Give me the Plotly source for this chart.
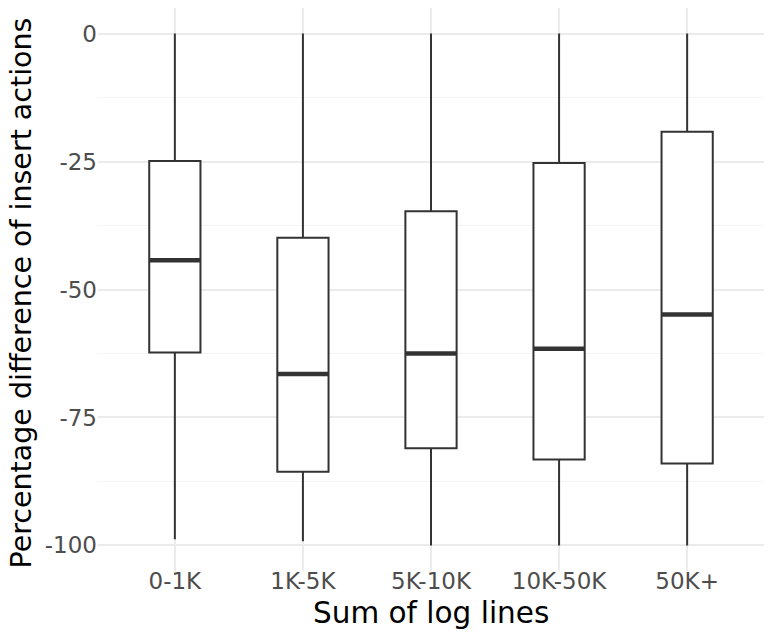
import plotly.graph_objects as go

categories = ["0-1K", "1K-5K", "5K-10K", "10K-50K", "50K+"]
lower_whisker = [-98.8, -99.2, -100.0, -100.0, -100.0]
q1 = [-62.3, -85.6, -81.0, -83.2, -84.0]
median = [-44.3, -66.5, -62.5, -61.6, -54.9]
q3 = [-24.9, -39.9, -34.7, -25.3, -19.2]
upper_whisker = [0.0, 0.0, 0.0, 0.0, 0.0]

y_ticks = [-100, -75, -50, -25, 0]
y_minor = [-87.5, -62.5, -37.5, -12.5]

x_title = "Sum of log lines"
y_title = "Percentage difference of insert actions"

positions = list(range(1, len(categories) + 1))
box_width = 0.4
LINE = "#333333"
GRID = "#EBEBEB"
FONT = "DejaVu Sans"

# page has an 8px body margin, so the figure is sized to fit the window
W, H = 765, 630
ML, MR, MT, MB = 90, 9, 0, 67

fig = go.Figure()
fig.add_trace(go.Box(
    x=positions, q1=q1, median=median, q3=q3,
    lowerfence=lower_whisker, upperfence=upper_whisker,
    width=box_width, whiskerwidth=0,
    fillcolor="white", line=dict(color=LINE, width=2),
    boxpoints=False, showlegend=False, hoverinfo="skip",
))

# thicker median segments (ggplot style)
mx, my = [], []
for p, m in zip(positions, median):
    mx += [p - box_width / 2, p + box_width / 2, None]
    my += [m, m, None]
fig.add_trace(go.Scatter(x=mx, y=my, mode="lines",
                         line=dict(color=LINE, width=4.5),
                         showlegend=False, hoverinfo="skip"))

fig.update_layout(
    width=W, height=H,
    margin=dict(l=ML, r=MR, t=MT, b=MB),
    paper_bgcolor="white", plot_bgcolor="white",
    font=dict(family=FONT, color="#4D4D4D"),
    xaxis=dict(
        range=[0.4, 5.6], tickvals=positions, ticktext=categories,
        showgrid=True, gridcolor=GRID, gridwidth=2, zeroline=False,
        showline=False, ticks="", tickfont=dict(size=23, color="#4D4D4D"),
        automargin=False, ticklabelstandoff=-6,
    ),
    yaxis=dict(
        range=[-105, 5], tickvals=y_ticks, ticktext=[str(v) for v in y_ticks],
        showgrid=True, gridcolor=GRID, gridwidth=2, zeroline=False,
        showline=False, ticks="", tickfont=dict(size=23, color="#4D4D4D"),
        minor=dict(tickvals=y_minor, showgrid=True, gridcolor="#F4F4F4", gridwidth=1),
        automargin=False, ticklabelstandoff=0,
    ),
    annotations=[
        dict(text=x_title, xref="paper", yref="paper", x=0.5, y=0,
             xanchor="center", yanchor="middle", yshift=-(605 - (H - MB)),
             showarrow=False, font=dict(size=29.5, color="black", family=FONT)),
        dict(text=y_title, xref="paper", yref="paper", x=0, y=0.5,
             xanchor="center", yanchor="middle", xshift=-(ML - 13), yshift=-4,
             textangle=-90, showarrow=False, borderpad=0,
             font=dict(size=28.5, color="black", family=FONT)),
    ],
)

fig.write_html("out.html")
